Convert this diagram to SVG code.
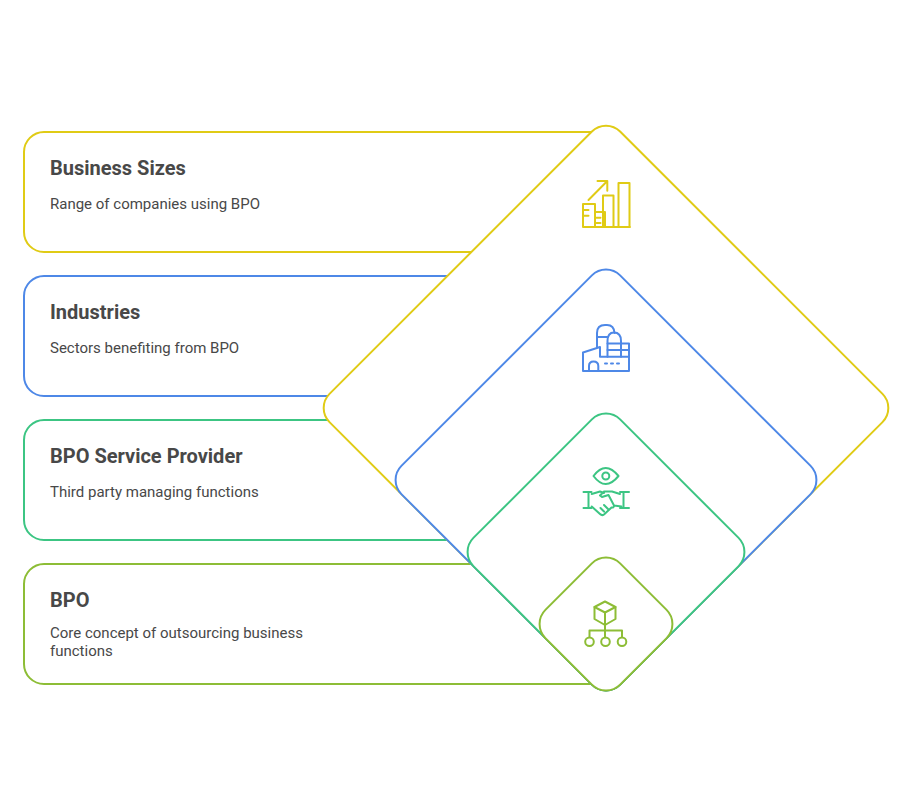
<svg xmlns="http://www.w3.org/2000/svg" width="914" height="792" viewBox="0 0 914 792">
<style>
.t{font-family:Roboto,"Liberation Sans",sans-serif;font-size:20px;font-weight:700;fill:#484848}
.d{font-family:Roboto,"Liberation Sans",sans-serif;font-size:15px;fill:#484848}
.s{fill:#fff;stroke-width:2}
.i{fill:none;stroke-width:2;stroke-linecap:round;stroke-linejoin:round}
.y{stroke:#E0CB15}.b{stroke:#4E88E7}.g{stroke:#3CC583}.l{stroke:#8DBD36}
</style>
<rect width="914" height="792" fill="#fff"/>
<g id="card-business-sizes"><rect class="s y" x="24" y="132" width="600" height="120" rx="20"/><text class="t" x="50" y="175">Business Sizes</text><text class="d" x="50" y="209">Range of companies using BPO</text></g>
<g id="card-industries"><rect class="s b" x="24" y="276" width="600" height="120" rx="20"/><text class="t" x="50" y="319">Industries</text><text class="d" x="50" y="353">Sectors benefiting from BPO</text></g>
<g id="card-provider"><rect class="s g" x="24" y="420" width="600" height="120" rx="20"/><text class="t" x="50" y="463">BPO Service Provider</text><text class="d" x="50" y="497">Third party managing functions</text></g>
<g id="card-bpo"><rect class="s l" x="24" y="564" width="600" height="120" rx="20"/><text class="t" x="50" y="607">BPO</text><text class="d" x="50" y="638">Core concept of outsourcing business</text><text class="d" x="50" y="656">functions</text></g>
<g id="diamond-business-sizes">
<path class="s y" d="M591.900 131.500A20 20 0 0 1 620.100 131.500L882.500 393.900A20 20 0 0 1 882.500 422.100L620.100 684.500A20 20 0 0 1 591.900 684.500L329.500 422.100A20 20 0 0 1 329.500 393.900Z"/>
<g class="i y"><path d="M583 227H630M583 227V204H595V227M595 212H605V227M603 227V195.500H613.500V227M618.500 227V183H629.500V227"/><path d="M588.500 200L607.300 181M597.500 181H607.300V190.700"/><path d="M583 210H588.500M583 215.700H588.500M596.500 217.700H600.500M596.500 223H600.500"/></g>
</g>
<g id="diamond-industries">
<path class="s b" d="M591.900 275.400A20 20 0 0 1 620.100 275.400L810.600 465.900A20 20 0 0 1 810.600 494.100L620.100 684.600A20 20 0 0 1 591.900 684.600L401.400 494.100A20 20 0 0 1 401.400 465.900Z"/>
<g class="i b"><path d="M583 371H629V343.500H621M583 371V352.500L600 347V356.700H629"/><path d="M597 347V333Q597 325 605 325H607Q614 325 614.500 333"/><path d="M597 337H608"/><path d="M607.500 356.700V341Q607.500 332.500 614 332.500Q621 332.500 621 341V356.700"/><path d="M607.500 343.500H621M607.500 350H629"/><path d="M589 371V366Q589 361.500 593.500 361.500Q598.300 361.500 598.300 366V371"/><path d="M605 363.500H607M611 363.500H613M617 363.500H619"/></g>
</g>
<g id="diamond-provider">
<path class="s g" d="M591.900 419.400A20 20 0 0 1 620.100 419.400L738.600 537.900A20 20 0 0 1 738.600 566.100L620.100 684.600A20 20 0 0 1 591.900 684.600L473.400 566.100A20 20 0 0 1 473.400 537.900Z"/>
<g class="i g"><path d="M593.500 476Q605.500 460 618.500 476Q605.500 492 593.500 476Z"/><circle cx="605.800" cy="476" r="3.500"/><path d="M583.500 492H591.500M583.500 508H591.500M588.500 492V508M620 492H629M620 508H629M623.500 492V508"/><path d="M591.700 494L600 491.500L604 493M620 494L612 491.500H604L600 495.500L602 497L608.500 495L614 505.500Q614 508 611.500 507.500L604 514.500Q602 516 600 514L591.700 506.500M621.500 506.500L614 505.500M604 505L608 509M600.500 508L604 511.500"/></g>
</g>
<g id="diamond-bpo">
<path class="s l" d="M591.900 563.400A20 20 0 0 1 620.100 563.400L666.600 609.900A20 20 0 0 1 666.600 638.100L620.100 684.600A20 20 0 0 1 591.900 684.600L545.400 638.100A20 20 0 0 1 545.400 609.900Z"/>
<g class="i l"><path d="M605 601.500L615.500 607V619L605 625L594.500 619V607Z"/><path d="M594.500 607L605 612.500L615.500 607M605 612.500V637"/><path d="M589.500 637V630.500H622V637"/><circle cx="589.500" cy="641.800" r="4.300"/><circle cx="605.500" cy="641.800" r="4.300"/><circle cx="622" cy="641.800" r="4.300"/></g>
</g>
</svg>
